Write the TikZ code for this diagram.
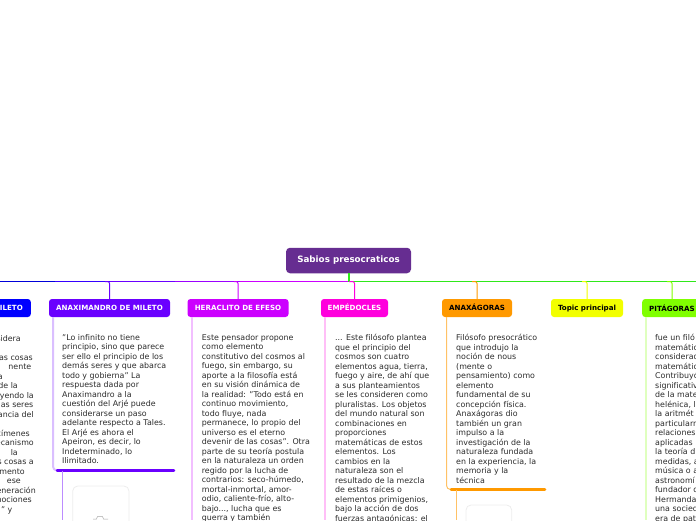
\documentclass[tikz,border=0pt]{standalone}
\usepackage{fontspec}
\setmainfont{DejaVu Sans}[Ligatures=NoCommon]
\definecolor{colTales}{HTML}{0000FF}
\definecolor{colAnaxi}{HTML}{6A00FF}
\definecolor{colHera}{HTML}{CC00FF}
\definecolor{colEmpe}{HTML}{FF00DD}
\definecolor{colAnaxa}{HTML}{FF9900}
\definecolor{colTopic}{HTML}{F2FF00}
\definecolor{colPita}{HTML}{80FF00}
\definecolor{colBus}{HTML}{2FE81A}
\definecolor{colTitle}{HTML}{662D91}
\definecolor{colBody}{HTML}{2B2B2B}
\tikzset{
	titlebox/.style={fill=colTitle,rounded corners=4pt,text=white,font=\fontsize{8.75}{10}\bfseries,minimum width=125pt,minimum height=25.5pt,inner sep=0pt},
	topicbox/.style={fill=#1,rounded corners=3pt,font=\fontsize{7.1}{8}\bfseries,minimum height=18pt,inner sep=0pt,text height=5.4pt,text depth=1.4pt},
	bodytext/.style={anchor=north west,align=left,inner sep=0pt,text=colBody,font=\fontsize{7.9}{9.5}\selectfont},
	frag/.style={anchor=base east,inner sep=0pt,text=colBody,font=\fontsize{7.9}{9.5}\selectfont},
	stem/.style={draw=#1,line width=1pt,rounded corners=2pt},
	busline/.style={draw=#1,line width=1.3pt},
	card/.style={draw=black!7,fill=white,line width=0.8pt,rounded corners=5pt}
}
\begin{document}
\begin{tikzpicture}[x=1pt,y=-1pt,line join=round]
	\useasboundingbox (0,0) rectangle (696,520);
	% --- Barra superior ---
	\draw[busline=colTales!85!black] (0,281.5) -- (55,281.5);
	\draw[busline=colTales!50!colAnaxi] (55,281.5) -- (110,281.5);
	\draw[busline=colAnaxi] (110,281.5) -- (175,281.5);
	\draw[busline=colAnaxi!50!colHera] (175,281.5) -- (240,281.5);
	\draw[busline=colHera] (240,281.5) -- (349,281.5);
	\draw[busline=colBus] (349,281.5) -- (696,281.5);
	% --- Titulo ---
	\node[titlebox] (title) at (348.5,260.5) {Sabios presocraticos};
	\coordinate (hub) at (349,281.5);
	\draw[colBus,line width=2pt] (title.south -| hub) -- (hub);
	% --- Temas ---
	\node[topicbox=colTales,text=white,anchor=east,minimum width=50pt] (tales) at (31,308) {};
	\node[text=white,anchor=east,inner sep=0pt,font=\fontsize{7.1}{8}\bfseries] (talesText) at (23,308) {ILETO};
	\node[topicbox=colAnaxi,text=white,minimum width=121pt] (anaximandro) at (109.5,308) {ANAXIMANDRO DE MILETO};
	\node[topicbox=colHera,text=white,minimum width=101pt] (heraclito) at (238,308) {HERACLITO DE EFESO};
	\node[topicbox=colEmpe,text=white,minimum width=67pt] (empedocles) at (354.5,308) {EMPÉDOCLES};
	\node[topicbox=colAnaxa,minimum width=70pt] (anaxagoras) at (477,308) {ANAXÁGORAS};
	\node[topicbox=colTopic,minimum width=72pt] (topic) at (587,308) {Topic principal};
	\node[topicbox=colPita,anchor=west,minimum width=60pt] (pitagoras) at (642,308) {};
	\node[anchor=west,inner sep=0pt,font=\fontsize{7.1}{8}\bfseries] (pitaText) at (649,308) {PITÁGORAS};
	% --- Ramas ---
	\coordinate (busAnaxi) at (105,281.5);
	\coordinate (busHera) at (234,281.5);
	\coordinate (busEmpe) at (349,281.5);
	\coordinate (busAnaxa) at (472,281.5);
	\coordinate (busTopic) at (582,281.5);
	\coordinate (busPita) at (667,281.5);
	\draw[stem=colAnaxi] (busAnaxi) -| (anaximandro.north);
	\draw[stem=colHera] (busHera) -| (heraclito.north);
	\draw[stem=colEmpe] (busEmpe) -| (empedocles.north);
	\draw[stem=colAnaxa] (busAnaxa) -| (anaxagoras.north);
	\draw[stem=colTopic] (busTopic) -| (topic.north);
	\draw[stem=colPita] (busPita) -| (pitagoras.north -| 672,0);
	% --- Tales ---
	\foreach \xend/\ylin/\frag in {21/341/sidera,33/360/as cosas,31.5/369.5/nente,3/379/a,18/388.5/de la,34/398/yendo la,33.5/407.5/as seres,34/417/ancia del,30/436/xímenes,34/445.5/ecanismo,18/455/la,34/464.5/s cosas a,25/474/mento,21/483.5/ese,36/493/eneración,32/502.5/nociones,12.5/512/" y}
		\node[frag] (tales\ylin) at (\xend,\ylin) {\frag};
	% --- Anaximandro ---
	\node[bodytext] (anaximandroText) at (62,334) {"Lo infinito no tiene\\principio, sino que parece\\ser ello el principio de los\\demás seres y que abarca\\todo y gobierna" La\\respuesta dada por\\Anaximandro a la\\cuestión del Arjé puede\\considerarse un paso\\adelante respecto a Tales.\\El Arjé es ahora el\\Apeiron, es decir, lo\\Indeterminado, lo\\Ilimitado.};
	\coordinate (anaxiEnd) at (174,470.5);
	\draw[draw=colAnaxi!25,line width=2pt,rounded corners=4pt] (anaximandro.south -| 53,0) |- (57,470.5);
	\draw[colAnaxi,line width=2.5pt,line cap=round] (57,470.5) -- (anaxiEnd);
	\draw[colAnaxi!45,line width=1.5pt] (62.5,471) -- (62.5,520);
	\path[card] (72.7,486) rectangle (129,530);
	\draw[black!35,line width=0.5pt] (93,519) -- (96.5,519) -- (97.5,516.5) -- (102.5,516.5) -- (103.5,519) -- (108,519);
	% --- Heraclito ---
	\draw[colHera!25,line width=2pt] (heraclito.south -| 192,0) -- (192,520);
	\node[bodytext] (heraclitoText) at (201.7,334) {Este pensador propone\\como elemento\\constitutivo del cosmos al\\fuego, sin embargo, su\\aporte a la filosofía está\\en su visión dinámica de\\la realidad: "Todo está en\\continuo movimiento,\\todo fluye, nada\\permanece, lo propio del\\universo es el eterno\\devenir de las cosas". Otra\\parte de su teoría postula\\en la naturaleza un orden\\regido por la lucha de\\contrarios: seco-húmedo,\\mortal-inmortal, amor-\\odio, caliente-frío, alto-\\bajo..., lucha que es\\guerra y también};
	% --- Empedocles ---
	\draw[colEmpe!25,line width=2pt] (empedocles.south -| 325,0) -- (325,520);
	\node[bodytext] (empedoclesText) at (335,334) {... Este filósofo plantea\\que el principio del\\cosmos son cuatro\\elementos agua, tierra,\\fuego y aire, de ahí que\\a sus planteamientos\\se les consideren como\\pluralistas. Los objetos\\del mundo natural son\\combinaciones en\\proporciones\\matemáticas de estos\\elementos. Los\\cambios en la\\naturaleza son el\\resultado de la mezcla\\de estas raíces o\\elementos primigenios,\\bajo la acción de dos\\fuerzas antagónicas: el};
	% --- Anaxagoras ---
	\node[bodytext] (anaxagorasText) at (456,334) {Filósofo presocrático\\que introdujo la\\noción de nous\\(mente o\\pensamiento) como\\elemento\\fundamental de su\\concepción física.\\Anaxágoras dio\\también un gran\\impulso a la\\investigación de la\\naturaleza fundada\\en la experiencia, la\\memoria y la\\técnica};
	\coordinate (anaxaEnd) at (545,489.5);
	\draw[colAnaxa!60,line width=1pt,rounded corners=4pt] (anaxagoras.south -| 446.5,0) |- (451,489.5);
	\draw[colAnaxa,line width=2.5pt,line cap=round] (451,489.5) -- (anaxaEnd);
	\draw[colAnaxa!60,line width=1pt] (456.5,490) -- (456.5,520);
	\path[card] (466,505) rectangle (511.7,530);
	% --- Pitagoras ---
	\draw[colPita!25,line width=2pt] (pitagoras.south -| 646,0) -- (646,520);
	\node[bodytext] (pitagorasText) at (655,334) {fue un filó\\matemátic\\considerad\\matemátic\\Contribuyó\\significativ\\de la mate\\helénica, l\\la aritmét\\particularm\\relaciones\\aplicadas\\la teoría d\\medidas, a\\música o a\\astronomí\\fundador d\\Hermanda\\una socied\\era de pat};
\end{tikzpicture}
\end{document}
